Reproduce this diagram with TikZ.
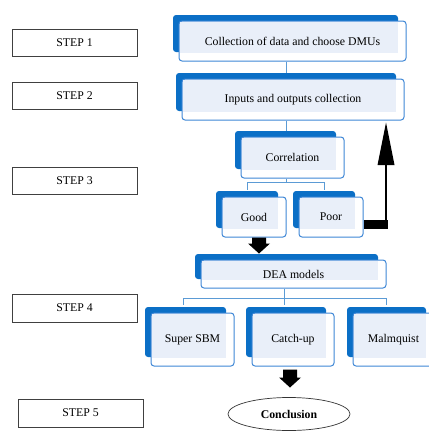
\documentclass[tikz,border=0pt]{standalone}
\usepackage{fontspec}
\setmainfont{Liberation Serif}
\usetikzlibrary{calc,shapes.geometric}
\definecolor{backblue}{HTML}{0B6FC6}
\definecolor{edgeblue}{HTML}{3F87D6}
\definecolor{lightblue}{HTML}{E9EFF9}
\definecolor{connblue}{HTML}{5B9BD5}
\tikzset{
  stepbox/.style={draw=black!75, line width=0.8pt, fill=white, inner sep=0pt,
    font=\fontsize{11.8}{13}\selectfont},
  frontbox/.style={draw=edgeblue, line width=1pt, fill=white, rounded corners=3pt, inner sep=0pt},
  boxtext/.style={font=\fontsize{11.8}{13}\selectfont, inner sep=0pt},
  conn/.style={draw=connblue, line width=0.9pt},
  blockarrow/.style={fill=black, draw=none},
}
% #1 name, #2 fx1, #3 fy1, #4 fx2, #5 fy2, #6 text
\newcommand\stackedbox[6]{%
  \fill[backblue, rounded corners=3pt] ({#2-6},{#3-6}) rectangle ({#4-8},{#5-9});
  \node[frontbox, minimum width={(#4-#2)*1pt}, minimum height={(#5-#3)*1pt}]
    (#1) at ({(#2+#4)/2},{(#3+#5)/2}) {};
  \fill[lightblue] ({#2+1.2},{#3+1.2}) rectangle ({#4-8},{#5-8});
  \node[boxtext] (#1-t) at (#1.center) {#6};
}
\begin{document}
\begin{tikzpicture}[x=1pt, y=-1pt]
\useasboundingbox (0,0) rectangle (429,432);
% step boxes
\node[stepbox, minimum width=125pt, minimum height=27pt] (s1) at (74.5,42.5) {STEP 1};
\node[stepbox, minimum width=125pt, minimum height=27pt] (s2) at (74.5,95.5) {STEP 2};
\node[stepbox, minimum width=125pt, minimum height=27pt] (s3) at (74.5,180.5) {STEP 3};
\node[stepbox, minimum width=125pt, minimum height=28pt] (s4) at (74.5,308) {STEP 4};
\node[stepbox, minimum width=125pt, minimum height=28pt] (s5) at (80.5,413) {STEP 5};

\stackedbox{b1}{179}{21}{406}{61}{Collection of data and choose DMUs}
\stackedbox{b2}{182}{79}{404}{120}{Inputs and outputs collection}
\draw[conn] ([xshift=-6.5pt]b1.south) -- ([xshift=-6.5pt,yshift=6pt]b1.south |- b2.north);
\stackedbox{corr}{241}{137}{344}{178}{Correlation}
\draw[conn] ([xshift=-7pt]b2.south) -- ([xshift=-7pt,yshift=6pt]b2.south |- corr.north);
\stackedbox{good}{222}{197}{286}{237}{Good}
\stackedbox{poor}{299}{197}{363}{237}{Poor}
\draw[conn] ([xshift=-6.5pt]corr.south) -- ++(0,4) coordinate (cj)
  -| ([xshift=-7pt,yshift=7pt]good.north);
\draw[conn] (cj) -| ([xshift=-7pt,yshift=7pt]poor.north);
\stackedbox{dea}{201}{260}{386}{288}{DEA models}
\stackedbox{sbm}{151}{313}{234}{366}{Super SBM}
\stackedbox{catch}{252}{313}{334}{366}{Catch-up}
\stackedbox{malm}{353}{313}{434}{366}{Malmquist}
\draw[conn] ([xshift=-9.5pt]dea.south) -- ++(0,10) coordinate (dj)
  -| ([xshift=-9.5pt,yshift=8pt]sbm.north);
\draw[conn] (dj) -| ([xshift=-7.5pt,yshift=8pt]malm.north);
\draw[conn] (dj) -- ([xshift=-9pt,yshift=8pt]catch.north);

% conclusion
\node[draw=black!80, line width=0.7pt, fill=white, ellipse, minimum width=122pt,
  minimum height=33pt, inner sep=0pt, font=\fontsize{11.8}{13}\selectfont\bfseries]
  (concl) at (289,414) {Conclusion};

% block arrow good -> dea
\fill[blockarrow] (good.south) ++(-2,0) -- ++(0,6) -- ++(-4,0) -- ++(11,10)
  -- ++(11,-10) -- ++(-4,0) -- ++(0,-6) -- cycle;
% block arrow catch -> conclusion
\fill[blockarrow] (catch.south) ++(-10,3) -- ++(0,8) -- ++(-4,0) -- ++(11,10)
  -- ++(11,-10) -- ++(-4,0) -- ++(0,-8) -- cycle;
% poor -> back to inputs
\fill[black] ($(poor.south east)+(0,-18)$) rectangle ($(poor.south east)+(24,-9)$);
\coordinate (pk) at ($(poor.south east)+(22.5,-9)$);
\draw[black, line width=2.6pt] (pk) -- (pk |- 0,165);
\fill[black] ($(pk |- 0,165)+(-8.5,0)$) -- ($(pk |- b2.south)+(0,2)$) -- ($(pk |- 0,165)+(8.5,0)$) -- cycle;
\end{tikzpicture}
\end{document}
